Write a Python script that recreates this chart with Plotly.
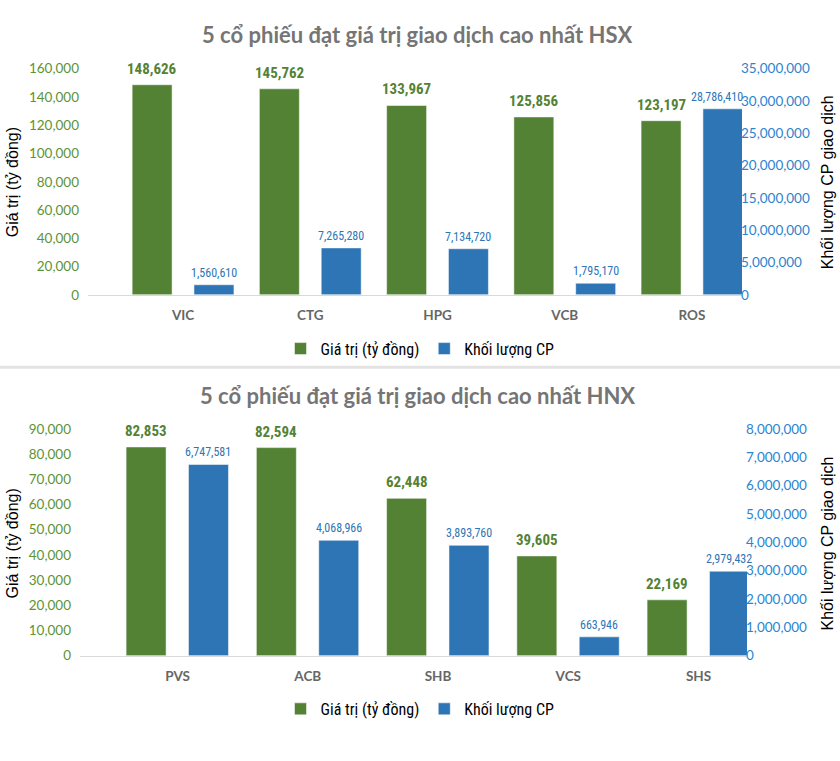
import plotly.graph_objects as go

# ---- data ----
hsx_codes = ["VIC", "CTG", "HPG", "VCB", "ROS"]
hsx_value = [148626, 145762, 133967, 125856, 123197]          # Giá trị (tỷ đồng)
hsx_volume = [1560610, 7265280, 7134720, 1795170, 28786410]    # Khối lượng CP

hnx_codes = ["PVS", "ACB", "SHB", "VCS", "SHS"]
hnx_value = [82853, 82594, 62448, 39605, 22169]
hnx_volume = [6747581, 4068966, 3893760, 663946, 2979432]

title_hsx = "5 cổ phiếu đạt giá trị giao dịch cao nhất HSX"
title_hnx = "5 cổ phiếu đạt giá trị giao dịch cao nhất HNX"
name_value = "Giá trị (tỷ đồng)"
name_volume = "Khối lượng CP"
left_title = "Giá trị (tỷ đồng)"
right_title = "Khối lượng CP giao dịch"

GREEN = "#548235"
BLUE = "#2E75B6"
GREEN_TICK = "#5E9333"
BLUE_TICK = "#2B84CF"
NARROW = "Roboto Condensed, Liberation Sans Narrow, Arial Narrow, Roboto, sans-serif"
W, H = 840, 761


def fmt(v):
    return f"{v:,}"


def px(x):
    return x / W


def py(y):
    return 1 - y / H


fig = go.Figure()

# bar geometry (category units): width, offsets of green/blue bars
TOP_BW, TOP_OFF_G, TOP_OFF_B, TOP_UNIT = 0.314, -0.40, 0.086, 127.25
BOT_BW, BOT_OFF_G, BOT_OFF_B, BOT_UNIT = 0.307, -0.395, 0.084, 130.25

bar_line = dict(color="white", width=0.5)
fig.add_trace(go.Bar(x=hsx_codes, y=hsx_value, name=name_value, xaxis="x", yaxis="y",
                     marker=dict(color=GREEN, line=bar_line), width=TOP_BW, offset=TOP_OFF_G,
                     legend="legend", hoverinfo="skip"))
fig.add_trace(go.Bar(x=hsx_codes, y=hsx_volume, name=name_volume, xaxis="x", yaxis="y2",
                     marker=dict(color=BLUE, line=bar_line), width=TOP_BW, offset=TOP_OFF_B,
                     legend="legend", hoverinfo="skip"))
fig.add_trace(go.Bar(x=hnx_codes, y=hnx_value, name=name_value, xaxis="x2", yaxis="y3",
                     marker=dict(color=GREEN, line=bar_line), width=BOT_BW, offset=BOT_OFF_G,
                     legend="legend2", hoverinfo="skip"))
fig.add_trace(go.Bar(x=hnx_codes, y=hnx_volume, name=name_volume, xaxis="x2", yaxis="y4",
                     marker=dict(color=BLUE, line=bar_line), width=BOT_BW, offset=BOT_OFF_B,
                     legend="legend2", hoverinfo="skip"))

tickfont_l = dict(family="Lato, sans-serif", size=13.5, color=GREEN_TICK)
tickfont_r = dict(family="Lato, sans-serif", size=13.5, color=BLUE_TICK)
catfont = dict(family="Lato, sans-serif", size=13.5, color="#666666", weight="bold")
legfont = dict(family="Roboto Condensed, Roboto, sans-serif", size=16, color="#000000")

fig.update_layout(
    width=W, height=H,
    margin=dict(l=0, r=0, t=0, b=0),
    paper_bgcolor="white", plot_bgcolor="rgba(0,0,0,0)",
    barmode="overlay",
    showlegend=True,
    xaxis=dict(domain=[px(88), px(742)], anchor="y", range=[-0.747, 4.393],
               showline=True, linecolor="#D9D9D9", linewidth=1, showgrid=False,
               tickfont=catfont, ticks="", ticklabelstandoff=8),
    yaxis=dict(domain=[py(293), py(62)], anchor="x", range=[0, 160000], dtick=20000,
               tickformat=",d", tickfont=tickfont_l, showgrid=False, zeroline=False,
               ticklabelstandoff=8),
    yaxis2=dict(overlaying="y", side="right", anchor="x", range=[0, 35000000], dtick=5000000,
                tickformat=",d", tickfont=tickfont_r, showgrid=False, zeroline=False,
                ticklabelstandoff=-2),
    xaxis2=dict(domain=[px(80), px(747)], anchor="y3", range=[-0.749, 4.372],
                showline=True, linecolor="#D9D9D9", linewidth=1, showgrid=False,
                tickfont=catfont, ticks="", ticklabelstandoff=8),
    yaxis3=dict(domain=[py(661.6), py(430)], anchor="x2", range=[0, 90000], dtick=10000,
                tickformat=",d", tickfont=tickfont_l, showgrid=False, zeroline=False,
                ticklabelstandoff=8),
    yaxis4=dict(overlaying="y3", side="right", anchor="x2", range=[0, 8000000], dtick=1000000,
                tickformat=",d", tickfont=tickfont_r, showgrid=False, zeroline=False,
                ticklabelstandoff=-2),
    legend=dict(orientation="h", x=0.5, xanchor="center", y=py(348), yanchor="middle",
                font=legfont, bgcolor="rgba(0,0,0,0)", itemwidth=30, traceorder="normal"),
    legend2=dict(orientation="h", x=0.5, xanchor="center", y=py(716), yanchor="middle",
                 font=legfont, bgcolor="rgba(0,0,0,0)", itemwidth=30, traceorder="normal"),
)

title_font = dict(family="Lato, sans-serif", size=22, color="#757575", weight="bold")
axis_title_font = dict(family="Liberation Sans, Arial, sans-serif", size=16, color="#000000")
annotations = [
    dict(text=title_hsx, x=px(417), y=py(27), xref="paper", yref="paper", showarrow=False,
         font=title_font, xanchor="center", yanchor="middle"),
    dict(text=title_hnx, x=px(417), y=py(396), xref="paper", yref="paper", showarrow=False,
         font=title_font, xanchor="center", yanchor="middle"),
    dict(text=left_title, x=px(12), y=py(178), xref="paper", yref="paper", showarrow=False,
         textangle=-90, font=axis_title_font, xanchor="center", yanchor="middle"),
    dict(text=left_title, x=px(12), y=py(547), xref="paper", yref="paper", showarrow=False,
         textangle=-90, font=axis_title_font, xanchor="center", yanchor="middle"),
    dict(text=right_title, x=px(827), y=py(178), xref="paper", yref="paper", showarrow=False,
         textangle=-90, font=axis_title_font, xanchor="center", yanchor="middle"),
    dict(text=right_title, x=px(827), y=py(547), xref="paper", yref="paper", showarrow=False,
         textangle=-90, font=axis_title_font, xanchor="center", yanchor="middle"),
]

green_lab = dict(family="Roboto Condensed, Roboto, sans-serif", size=15, color=GREEN, weight="bold")
blue_lab = dict(family="Roboto Condensed, Roboto, sans-serif", size=12, color=BLUE)


def add_labels(cats, vals, xref, yref, off, bw, unit, font, yshift, last_shift=0):
    center_px = (off + bw / 2) * unit
    for i, (c, v) in enumerate(zip(cats, vals)):
        shift = center_px + (last_shift if i == len(cats) - 1 else 0)
        annotations.append(dict(text=fmt(v), x=c, y=v, xref=xref, yref=yref, showarrow=False,
                                xanchor="center", yanchor="bottom", xshift=shift,
                                yshift=yshift, font=font))


add_labels(hsx_codes, hsx_value, "x", "y", TOP_OFF_G, TOP_BW, TOP_UNIT, green_lab, 5)
add_labels(hsx_codes, hsx_volume, "x", "y2", TOP_OFF_B, TOP_BW, TOP_UNIT, blue_lab, 3, last_shift=-6)
add_labels(hnx_codes, hnx_value, "x2", "y3", BOT_OFF_G, BOT_BW, BOT_UNIT, green_lab, 5)
add_labels(hnx_codes, hnx_volume, "x2", "y4", BOT_OFF_B, BOT_BW, BOT_UNIT, blue_lab, 3)

fig.update_layout(annotations=annotations)
fig.add_shape(type="line", xref="paper", yref="paper", x0=0, x1=1, y0=py(367), y1=py(367),
              line=dict(color="#E3E3E3", width=3))

fig.write_html("out.html", config={"displayModeBar": False},
               post_script="document.body.style.margin='0';document.body.style.overflow='hidden';")
